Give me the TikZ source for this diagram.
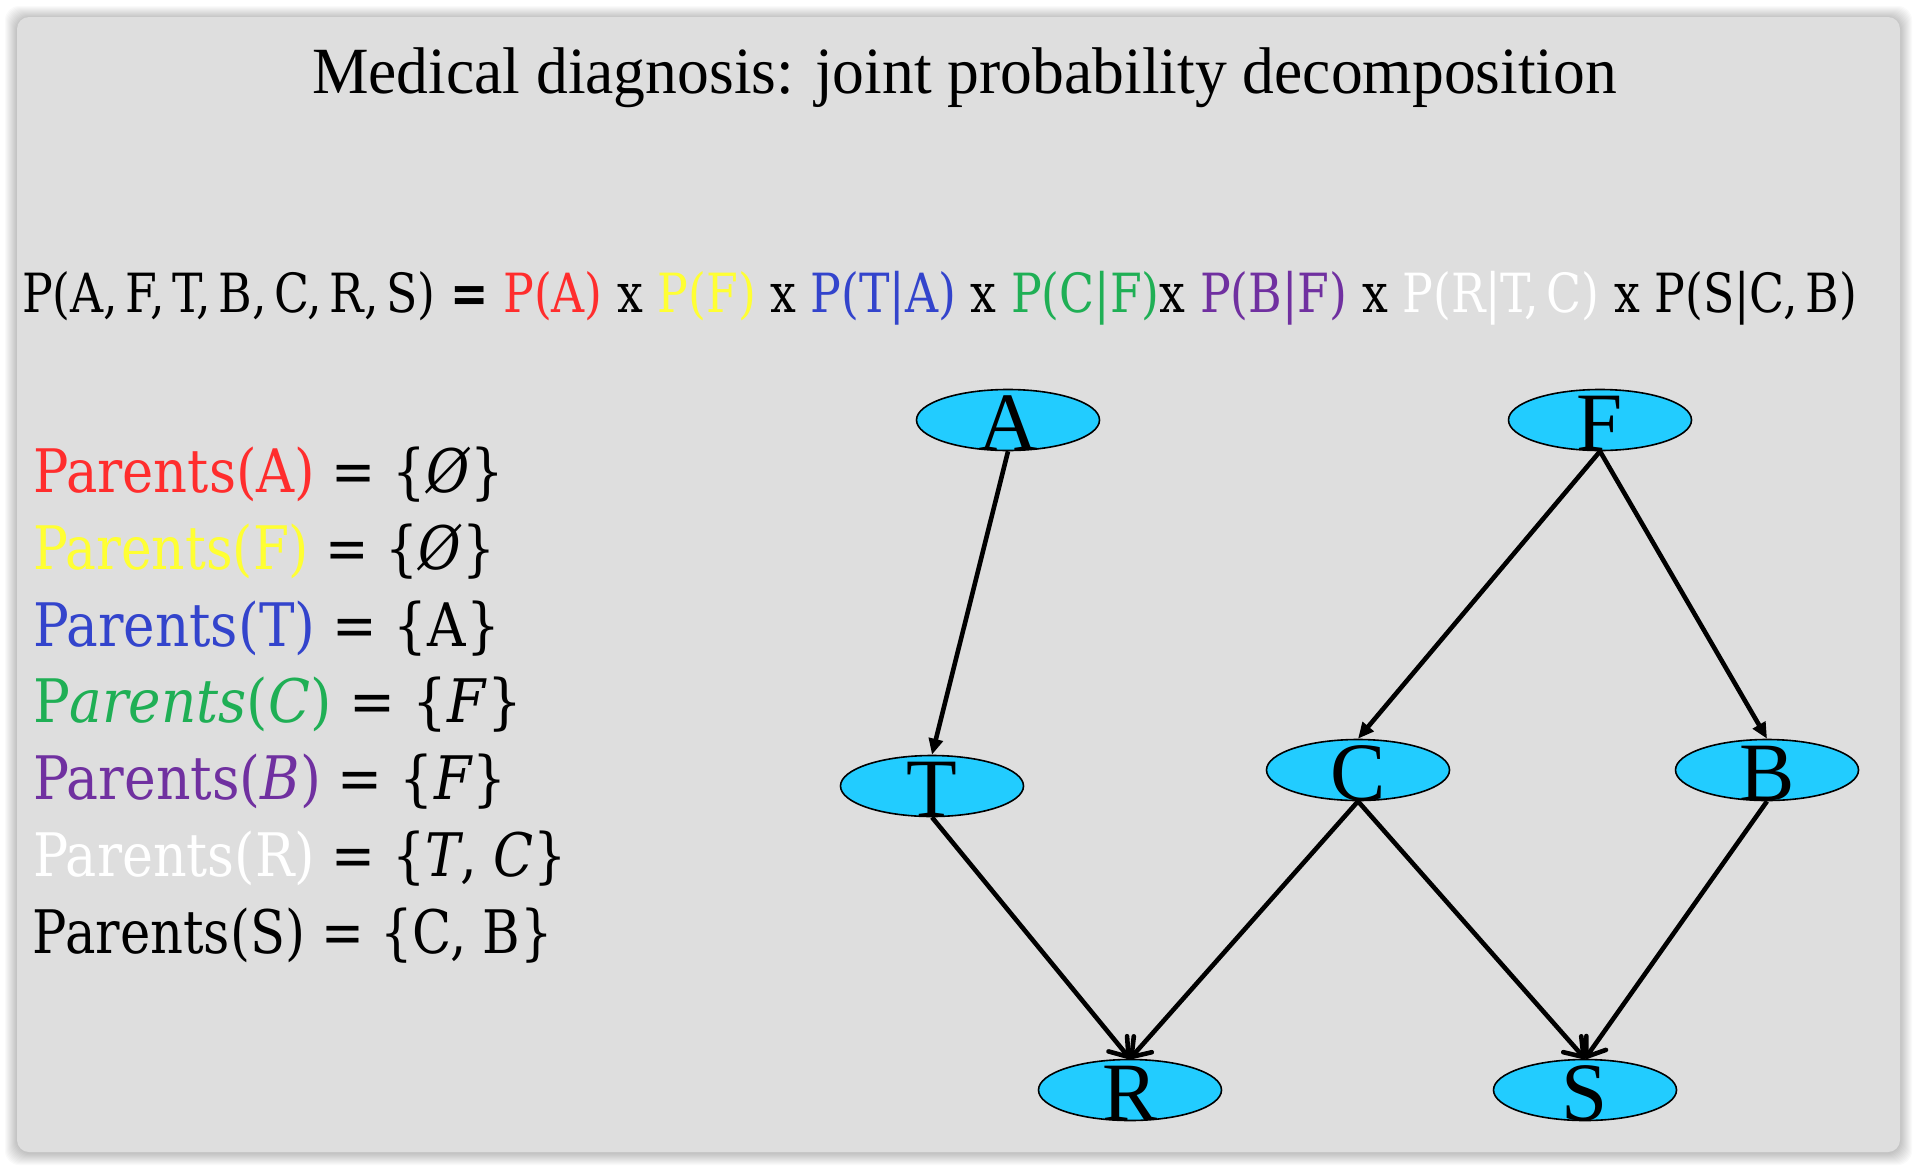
\documentclass[tikz,border=0pt]{standalone}
\usepackage{fontspec}
\setmainfont{Liberation Serif}
\newfontfamily\camb{DejaVu Serif}
\usetikzlibrary{arrows.meta,shapes.geometric}
\definecolor{panel}{HTML}{DEDEDE}
\definecolor{nodeblue}{HTML}{22CCFF}
\definecolor{cred}{HTML}{FF2D2D}
\definecolor{cyel}{HTML}{FFFF33}
\definecolor{cblue}{HTML}{3344CC}
\definecolor{cgreen}{HTML}{1FAF55}
\definecolor{cpurp}{HTML}{7030A0}
\tikzset{
  bn/.style={ellipse, draw=black, line width=1.6pt, fill=nodeblue,
    minimum width=183pt, minimum height=61pt, inner sep=0pt,
    font=\fontsize{83}{83}\selectfont, text height=40pt, text depth=0pt},
  edgef/.style={line width=4.6pt, -{Triangle[length=16pt,width=14pt]}},
  edgeo/.style={line width=4.6pt, -{Straight Barb[length=17pt,width=24pt,line width=4.6pt,round]}},
  txt/.style={anchor=base west, inner sep=0pt, outer sep=0pt},
  par/.style={txt, font=\camb\fontsize{60}{64}\selectfont}
}
\newcommand{\nl}[1]{\raisebox{-10pt}{#1}}
\begin{document}
\begin{tikzpicture}[x=1pt,y=-1pt]
\useasboundingbox (0,0) rectangle (1918,1170);
\fill[white] (0,0) rectangle (1918,1170);
% shadow
\foreach \i in {1,...,12}{
  \fill[black, opacity=0.02, rounded corners=14pt] (17-\i,17-\i+1) rectangle (1900+\i,1152+\i+1);
}
\fill[panel, rounded corners=12pt] (17,17) rectangle (1900,1152);

% title
\node[txt] (title) at (312,93) {\resizebox{1305pt}{\height}{\fontsize{66}{70}\selectfont Medical diagnosis: joint probability decomposition}};

% equation
\node[txt] (eq) at (22,312) {\resizebox{1835pt}{\height}{\camb\fontsize{54}{60}\selectfont
P(A,\,F,\,T,\,B,\,C,\,R,\,S) \textbf{=} \textcolor{cred}{P(A)} x \textcolor{cyel}{P(F)} x \textcolor{cblue}{P(T|A)} x \textcolor{cgreen}{P(C|F)}x \textcolor{cpurp}{P(B|F)} x \textcolor{white}{P(R|T,\,C)} x P(S|C,\,B)}};

% parents
\node[par] (pa) at (33,492) {\resizebox{471pt}{\height}{\textcolor{cred}{Parents(A)} = \{\textit{Ø}\}}};
\node[par] (pf) at (33,569) {\resizebox{462pt}{\height}{\textcolor{cyel}{Parents(F)} = \{\textit{Ø}\}}};
\node[par] (pt) at (33,646) {\resizebox{467pt}{\height}{\textcolor{cblue}{Parents(T)} = \{A\}}};
\node[par] (pc) at (33,722) {\resizebox{489pt}{\height}{\textcolor{cgreen}{P\textit{arents}(\textit{C})} = \{\textit{F}\}}};
\node[par] (pb) at (33,799) {\resizebox{474pt}{\height}{\textcolor{cpurp}{Parents(\textit{B})} = \{\textit{F}\}}};
\node[par] (pr) at (33,876) {\resizebox{534pt}{\height}{\textcolor{white}{Parents(R)} = \{\textit{T}, \textit{C}\}}};
\node[par] (ps) at (33,953) {\resizebox{520pt}{\height}{Parents(S) = \{C, B\}}};

% network
\node[bn] (A) at (1008,420) {\nl{A}};
\node[bn] (F) at (1600,420) {\nl{F}};
\node[bn] (T) at (932,786) {\nl{T}};
\node[bn] (C) at (1358,770) {\nl{C}};
\node[bn] (B) at (1767,770) {\nl{B}};
\node[bn] (R) at (1130,1090) {\nl{R}};
\node[bn] (S) at (1585,1090) {\nl{S}};

\draw[edgef] (A.south) -- (T.north);
\draw[edgef] (F.south) -- (C.north);
\draw[edgef] (F.south) -- (B.north);
\draw[edgeo] (T.south) -- (R.north);
\draw[edgeo] (C.south) -- (R.north);
\draw[edgeo] (C.south) -- (S.north);
\draw[edgeo] (B.south) -- (S.north);
\end{tikzpicture}
\end{document}
